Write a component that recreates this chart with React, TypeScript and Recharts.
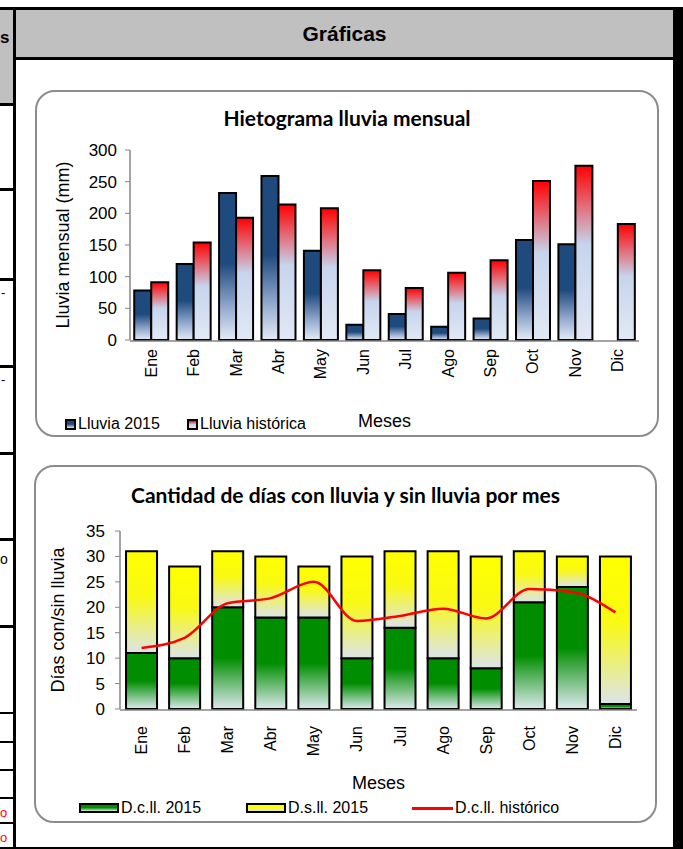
import { BarChart, Bar, XAxis, YAxis, Line, ComposedChart } from 'recharts';

const months = ['Ene', 'Feb', 'Mar', 'Abr', 'May', 'Jun', 'Jul', 'Ago', 'Sep', 'Oct', 'Nov', 'Dic'];

// Hietograma (mm)
const lluvia2015 = [78, 120, 232, 259, 141, 24, 41, 21, 34, 158, 151, null];
const lluviaHistorica = [91, 154, 193, 214, 208, 110, 82, 106, 126, 251, 275, 183];
const rainTicks = [0, 50, 100, 150, 200, 250, 300];

// Días con / sin lluvia
const diasConLluvia2015 = [11, 10, 20, 18, 18, 10, 16, 10, 8, 21, 24, 1];
const diasSinLluvia2015 = [20, 18, 11, 12, 10, 20, 15, 21, 22, 10, 6, 29];
const diasConLluviaHistorico = [12, 14, 20.8, 21.8, 25, 17.3, 18.3, 19.7, 17.8, 23.6, 23, 19];
const dayTicks = [0, 5, 10, 15, 20, 25, 30, 35];

const rainData = months.map((mes, i) => ({ mes, lluvia2015: lluvia2015[i], historica: lluviaHistorica[i] }));
const dayData = months.map((mes, i) => ({
  mes,
  con: diasConLluvia2015[i],
  sin: diasSinLluvia2015[i],
  hist: diasConLluviaHistorico[i],
}));
const edgeTicks = months.map((_, i) => i).concat(months.length);

const FONT = "'Liberation Sans', Arial, sans-serif";
const TITLE_FONT = "Lato, 'Open Sans', sans-serif";
const AXIS = '#868686';

function MonthTick({ x, y, payload }: any) {
  return (
    <text
      x={x}
      y={y}
      transform={`rotate(-90 ${x} ${y})`}
      textAnchor="end"
      dominantBaseline="central"
      fontSize={16}
      fontFamily={FONT}
      fill="#000"
    >
      {payload.value}
    </text>
  );
}

const line = (left: number, top: number, width: number, height: number, bg = '#000') => (
  <div style={{ position: 'absolute', left, top, width, height, background: bg }} />
);

const rowLines = [103, 188, 278, 365, 452, 538, 625];
const thinRowLines = [712, 741, 769, 797, 822, 847];

export default function App() {
  return (
    <div style={{ position: 'absolute', left: 0, top: 0, width: 683, height: 849, background: '#fff', overflow: 'hidden', fontFamily: FONT }}>
      {/* table frame */}
      {line(0, 10, 13, 93, '#C0C0C0')}
      {line(16, 10, 657, 47, '#C0C0C0')}
      {line(0, 7, 683, 3)}
      {line(16, 57, 657, 3)}
      {line(13, 7, 3, 842)}
      {line(673, 7, 10, 842)}
      {rowLines.map((y) => <div key={y}>{line(0, y, 14, 3)}</div>)}
      {thinRowLines.map((y) => <div key={y}>{line(0, y, 14, 2)}</div>)}
      {line(16, 847, 657, 2)}
      <div style={{ position: 'absolute', left: 16, top: 10, width: 657, height: 47, lineHeight: '47px', textAlign: 'center', fontWeight: 'bold', fontSize: 21 }}>Gráficas</div>
      <div style={{ position: 'absolute', left: 0, top: 28, fontWeight: 'bold', fontSize: 17 }}>s</div>
      <div style={{ position: 'absolute', left: 1, top: 285, fontSize: 13 }}>-</div>
      <div style={{ position: 'absolute', left: 1, top: 372, fontSize: 13 }}>-</div>
      <div style={{ position: 'absolute', left: 0, top: 551, fontSize: 14 }}>o</div>
      <div style={{ position: 'absolute', left: 0, top: 805, fontSize: 13, color: '#f00' }}>o</div>
      <div style={{ position: 'absolute', left: 0, top: 830, fontSize: 13, color: '#f00' }}>o</div>

      {/* Hietograma */}
      <div style={{ position: 'absolute', left: 35, top: 90, width: 624, height: 347 }}>
        <div style={{ position: 'absolute', inset: 0, border: '2px solid #8C8C8C', borderRadius: 20, boxSizing: 'border-box' }} />
        <div style={{ position: 'absolute', left: 0, top: 15, width: 624, textAlign: 'center', fontFamily: TITLE_FONT, fontWeight: 700, fontSize: 21 }}>
          Hietograma lluvia mensual
        </div>
        <div style={{ position: 'absolute', left: 0, top: 0 }}>
          <BarChart width={624} height={347} data={rainData} margin={{ top: 60, right: 20, bottom: 95, left: 10 }} barCategoryGap="10%" barGap={0}>
            <defs>
              <linearGradient id="g2015" x1="0" y1="0" x2="0" y2="1">
                <stop offset="0" stopColor="#1F4A7E" />
                <stop offset="0.48" stopColor="#1F4A7E" />
                <stop offset="0.78" stopColor="#94AACE" />
                <stop offset="1" stopColor="#E4EBF6" />
              </linearGradient>
              <linearGradient id="gHist" x1="0" y1="0" x2="0" y2="1">
                <stop offset="0" stopColor="#FF0000" />
                <stop offset="0.45" stopColor="#C6D4EC" />
                <stop offset="1" stopColor="#E2E9F5" />
              </linearGradient>
            </defs>
            <XAxis xAxisId="edge" type="number" domain={[0, months.length]} ticks={edgeTicks} allowDataOverflow tick={false} tickSize={5} height={1} axisLine={{ stroke: AXIS, strokeWidth: 1.5 }} tickLine={{ stroke: AXIS }} />
            <XAxis
              xAxisId="cat"
              dataKey="mes"
              height={1}
              interval={0}
              axisLine={false}
              tickLine={false}
              tickSize={0}
              tickMargin={9}
              tick={<MonthTick />}
              label={{ value: 'Meses', position: 'bottom', offset: 73, fontSize: 18, fill: '#000', fontFamily: FONT }}
            />
            <YAxis
              domain={[0, 300]}
              ticks={rainTicks}
              width={85}
              tickSize={5}
              tickMargin={8}
              axisLine={{ stroke: AXIS, strokeWidth: 1.5 }}
              tickLine={{ stroke: AXIS }}
              tick={{ fontSize: 17, fill: '#000', fontFamily: FONT }}
              label={{ value: 'Lluvia mensual (mm)', angle: -90, position: 'insideLeft', offset: 18, fontSize: 18, fill: '#000', fontFamily: FONT, style: { textAnchor: 'middle' } }}
            />
            <Bar xAxisId="cat" dataKey="lluvia2015" fill="url(#g2015)" stroke="#000" strokeWidth={2} isAnimationActive={false} />
            <Bar xAxisId="cat" dataKey="historica" fill="url(#gHist)" stroke="#000" strokeWidth={2} isAnimationActive={false} />
          </BarChart>
        </div>
        <div style={{ position: 'absolute', left: 30, top: 325, fontSize: 16, display: 'flex', alignItems: 'center', whiteSpace: 'nowrap' }}>
          <span style={{ width: 7, height: 7, border: '2px solid #000', background: 'linear-gradient(#1F4A7E, #1F4A7E 45%, #E4EBF6)', marginRight: 2 }} />
          Lluvia 2015
        </div>
        <div style={{ position: 'absolute', left: 152, top: 325, fontSize: 16, display: 'flex', alignItems: 'center', whiteSpace: 'nowrap' }}>
          <span style={{ width: 7, height: 7, border: '2px solid #000', background: 'linear-gradient(#FF0000, #C6D4EC 50%, #E2E9F5)', marginRight: 2 }} />
          Lluvia histórica
        </div>
      </div>

      {/* Días con y sin lluvia */}
      <div style={{ position: 'absolute', left: 34, top: 465, width: 623, height: 358 }}>
        <div style={{ position: 'absolute', inset: 0, border: '2px solid #8C8C8C', borderRadius: 20, boxSizing: 'border-box' }} />
        <div style={{ position: 'absolute', left: 0, top: 17, width: 623, textAlign: 'center', fontFamily: TITLE_FONT, fontWeight: 700, fontSize: 21 }}>
          Cantidad de días con lluvia y sin lluvia por mes
        </div>
        <div style={{ position: 'absolute', left: 0, top: 0 }}>
          <ComposedChart width={623} height={358} data={dayData} margin={{ top: 66, right: 20, bottom: 112, left: 10 }} barCategoryGap="14%">
            <defs>
              <linearGradient id="gCon" x1="0" y1="0" x2="0" y2="1">
                <stop offset="0" stopColor="#008E00" />
                <stop offset="0.5" stopColor="#008E00" />
                <stop offset="1" stopColor="#DDE9EE" />
              </linearGradient>
              <linearGradient id="gSin" x1="0" y1="0" x2="0" y2="1">
                <stop offset="0" stopColor="#FFFF00" />
                <stop offset="0.45" stopColor="#F9F914" />
                <stop offset="1" stopColor="#DCE4EA" />
              </linearGradient>
            </defs>
            <XAxis xAxisId="edge" type="number" domain={[0, months.length]} ticks={edgeTicks} allowDataOverflow tick={false} tickSize={5} height={1} axisLine={{ stroke: AXIS, strokeWidth: 1.5 }} tickLine={{ stroke: AXIS }} />
            <XAxis
              xAxisId="cat"
              dataKey="mes"
              height={1}
              interval={0}
              axisLine={false}
              tickLine={false}
              tickSize={0}
              tickMargin={17}
              tick={<MonthTick />}
              label={{ value: 'Meses', position: 'bottom', offset: 66, fontSize: 18, fill: '#000', fontFamily: FONT }}
            />
            <YAxis
              domain={[0, 35]}
              ticks={dayTicks}
              width={76}
              tickSize={5}
              tickMargin={10}
              axisLine={{ stroke: AXIS, strokeWidth: 1.5 }}
              tickLine={{ stroke: AXIS }}
              tick={{ fontSize: 17, fill: '#000', fontFamily: FONT }}
              label={{ value: 'Días con/sin lluvia', angle: -90, position: 'insideLeft', offset: 14, fontSize: 18, fill: '#000', fontFamily: FONT, style: { textAnchor: 'middle' } }}
            />
            <Bar xAxisId="cat" dataKey="con" stackId="d" fill="url(#gCon)" stroke="#000" strokeWidth={2} isAnimationActive={false} />
            <Bar xAxisId="cat" dataKey="sin" stackId="d" fill="url(#gSin)" stroke="#000" strokeWidth={2} isAnimationActive={false} />
            <Line xAxisId="cat" dataKey="hist" type="monotone" stroke="#FF0000" strokeWidth={2.5} dot={false} isAnimationActive={false} />
          </ComposedChart>
        </div>
        <div style={{ position: 'absolute', left: 45, top: 334, fontSize: 16, display: 'flex', alignItems: 'center', whiteSpace: 'nowrap' }}>
          <span style={{ width: 36, height: 6, border: '2px solid #000', background: 'linear-gradient(#008E00, #008E00 45%, #DDE9EE)', marginRight: 2 }} />
          D.c.ll. 2015
        </div>
        <div style={{ position: 'absolute', left: 212, top: 334, fontSize: 16, display: 'flex', alignItems: 'center', whiteSpace: 'nowrap' }}>
          <span style={{ width: 36, height: 6, border: '2px solid #000', background: 'linear-gradient(#FFFF00, #FFFF00 45%, #DCE4EA)', marginRight: 2 }} />
          D.s.ll. 2015
        </div>
        <div style={{ position: 'absolute', left: 378, top: 334, fontSize: 16, display: 'flex', alignItems: 'center', whiteSpace: 'nowrap' }}>
          <span style={{ width: 41, height: 3, background: '#FF0000', marginRight: 2 }} />
          D.c.ll. histórico
        </div>
      </div>
    </div>
  );
}
